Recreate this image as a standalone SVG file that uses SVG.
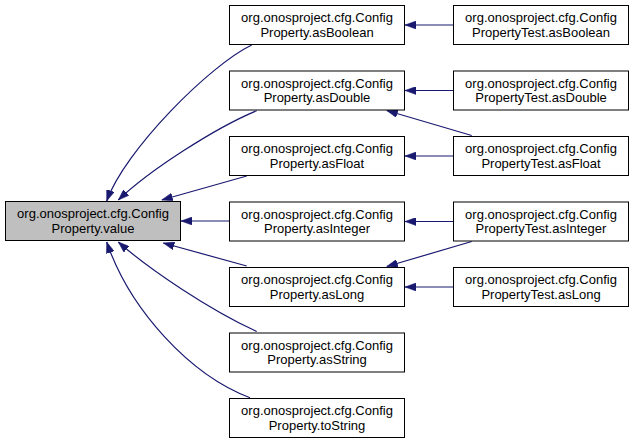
<svg xmlns="http://www.w3.org/2000/svg" width="635" height="443" viewBox="0 0 635 443">
<style>
.n rect{fill:#fff;stroke:#000;stroke-width:1}
.n.hl rect{fill:#bfbfbf}
.n text{font-family:"Liberation Sans",Arial,sans-serif;font-size:13px;fill:#000;text-anchor:middle}
.e path{fill:none;stroke:#191970;stroke-width:1.2;marker-end:url(#ah)}
</style>
<defs>
<marker id="ah" viewBox="0 0 11 8" refX="11" refY="4" markerWidth="11" markerHeight="8" markerUnits="userSpaceOnUse" orient="auto">
<path d="M0,0 L11,4 L0,8 z" fill="#191970" stroke="#191970" stroke-width="0.5"/>
</marker>
</defs>
<g id="edges" class="e">
<path d="M251.7,45 C210,65 125,150 106.7,201"/>
<path d="M256.7,110.7 C215,128 150,170 118.3,200"/>
<path d="M246.7,176 L161.7,200"/>
<path d="M229,221 L181,221"/>
<path d="M246.7,266 L163.3,243"/>
<path d="M256.7,331.5 C210,310 150,270 118.3,242"/>
<path d="M250,397.7 C190,375 130,310 106.7,242"/>
<path d="M453,25 L405,25"/>
<path d="M453,90.5 L405,90.5"/>
<path d="M471.7,135.5 L386.7,110.5"/>
<path d="M453,156 L405,156"/>
<path d="M453,221.5 L405,221.5"/>
<path d="M471.7,241.5 L386.7,266.5"/>
<path d="M453,287 L405,287"/>
</g>
<g id="value" class="n hl"><rect x="5.5" y="201.5" width="175" height="39"/><text x="93" y="218">org.onosproject.cfg.Config</text><text x="93" y="232.5">Property.value</text></g>
<g id="asBoolean" class="n"><rect x="229.5" y="5.5" width="175" height="39"/><text x="317" y="22">org.onosproject.cfg.Config</text><text x="317" y="36.5">Property.asBoolean</text></g>
<g id="asDouble" class="n"><rect x="229.5" y="71" width="175" height="39"/><text x="317" y="87.5">org.onosproject.cfg.Config</text><text x="317" y="102">Property.asDouble</text></g>
<g id="asFloat" class="n"><rect x="229.5" y="136.5" width="175" height="39"/><text x="317" y="153">org.onosproject.cfg.Config</text><text x="317" y="167.5">Property.asFloat</text></g>
<g id="asInteger" class="n"><rect x="229.5" y="202" width="175" height="39"/><text x="317" y="218.5">org.onosproject.cfg.Config</text><text x="317" y="233">Property.asInteger</text></g>
<g id="asLong" class="n"><rect x="229.5" y="267.5" width="175" height="39"/><text x="317" y="284">org.onosproject.cfg.Config</text><text x="317" y="298.5">Property.asLong</text></g>
<g id="asString" class="n"><rect x="229.5" y="333" width="175" height="39"/><text x="317" y="349.5">org.onosproject.cfg.Config</text><text x="317" y="364">Property.asString</text></g>
<g id="toString" class="n"><rect x="229.5" y="398.5" width="175" height="39"/><text x="317" y="415">org.onosproject.cfg.Config</text><text x="317" y="429.5">Property.toString</text></g>
<g id="testAsBoolean" class="n"><rect x="453.5" y="5.5" width="175" height="39"/><text x="541" y="22">org.onosproject.cfg.Config</text><text x="541" y="36.5">PropertyTest.asBoolean</text></g>
<g id="testAsDouble" class="n"><rect x="453.5" y="71" width="175" height="39"/><text x="541" y="87.5">org.onosproject.cfg.Config</text><text x="541" y="102">PropertyTest.asDouble</text></g>
<g id="testAsFloat" class="n"><rect x="453.5" y="136.5" width="175" height="39"/><text x="541" y="153">org.onosproject.cfg.Config</text><text x="541" y="167.5">PropertyTest.asFloat</text></g>
<g id="testAsInteger" class="n"><rect x="453.5" y="202" width="175" height="39"/><text x="541" y="218.5">org.onosproject.cfg.Config</text><text x="541" y="233">PropertyTest.asInteger</text></g>
<g id="testAsLong" class="n"><rect x="453.5" y="267.5" width="175" height="39"/><text x="541" y="284">org.onosproject.cfg.Config</text><text x="541" y="298.5">PropertyTest.asLong</text></g>
</svg>
